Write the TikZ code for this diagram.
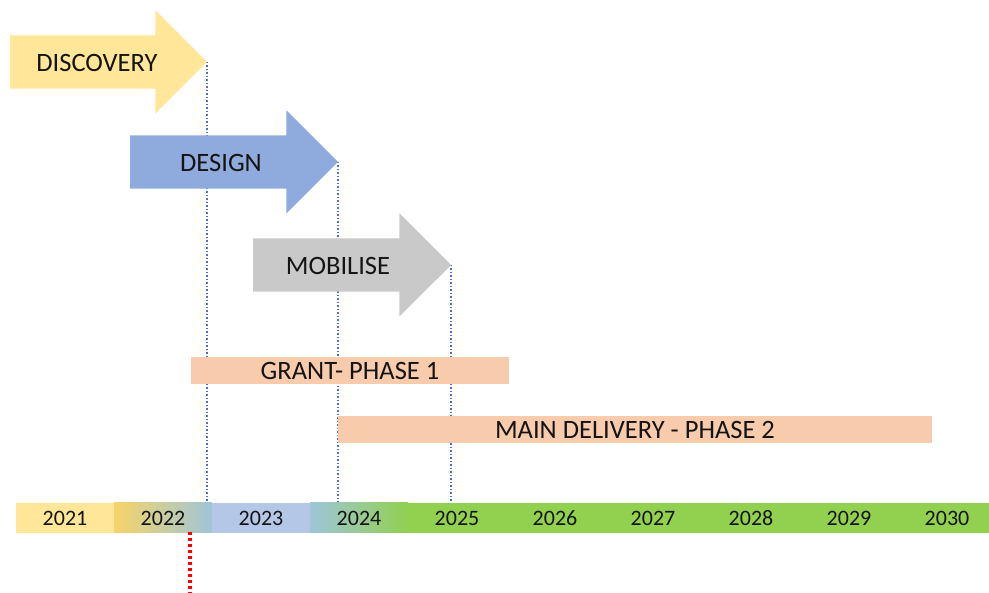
\documentclass[tikz,border=0pt]{standalone}
\usepackage{fontspec}
\setmainfont{Carlito}
\usetikzlibrary{positioning,shapes.arrows,backgrounds}

\definecolor{discfill}{HTML}{FFE699}
\definecolor{desfill}{HTML}{8FAADC}
\definecolor{mobfill}{HTML}{C9C9C9}
\definecolor{barfill}{HTML}{F8CBAD}
\definecolor{tlyellow}{HTML}{FFE699}
\definecolor{tlgold}{HTML}{F6D468}
\definecolor{tlteal}{HTML}{9FC5D8}
\definecolor{tlblue}{HTML}{B4C7E7}
\definecolor{tlgreen}{HTML}{92D050}
\definecolor{guide}{HTML}{4472C4}
\definecolor{inktext}{HTML}{141414}
\definecolor{nowred}{HTML}{FF0000}

\begin{document}
\begin{tikzpicture}[
  x=1pt, y=-1pt,
  phase/.style={single arrow, single arrow head extend=25pt, minimum width=103pt, inner xsep=0pt, inner ysep=26.5pt, outer sep=0pt, anchor=tail},
  phaselabel/.style={font=\fontsize{26.5}{30}\selectfont, text=inktext, inner sep=0pt},
  phasebar/.style={fill=barfill, minimum height=27pt, inner sep=0pt, outer sep=0pt, anchor=west, font=\fontsize{26.5}{30}\selectfont, text=inktext},
  year/.style={minimum width=98pt, minimum height=30pt, inner sep=0pt, outer sep=0pt, font=\fontsize{22}{26}\selectfont, text=inktext},
  gradcell/.style 2 args={path picture={\shade[left color=#1, right color=#2]
      (path picture bounding box.south west) rectangle (path picture bounding box.north east);}},
  guideline/.style={guide, line width=1.2pt, dash pattern=on 1.5pt off 2pt},
  nowline/.style={nowred, line width=3.4pt, dash pattern=on 3.4pt off 2.6pt}
]
\useasboundingbox (0,0) rectangle (989,593);

% Phase arrows
\node[phase, fill=discfill, minimum height=197pt] (disc) at (10,62) {};
\node[phase, fill=desfill, minimum height=208pt] (design) at (130,162) {};
\node[phase, fill=mobfill, minimum height=198pt] (mobilise) at (253,265) {};
\node[phaselabel] (disclabel) at (97,63) {DISCOVERY};
\node[phaselabel] (designlabel) at (221,163) {DESIGN};
\node[phaselabel] (moblabel) at (338,266) {MOBILISE};

% Funding bars
\node[phasebar, minimum width=318pt] (grant) at (191,370.5) {GRANT- PHASE 1};
\node[phasebar, minimum width=594pt] (main) at (338,429.5) {MAIN DELIVERY - PHASE 2};

% Timeline
\node[year, fill=tlyellow] (y2021) at (65,518) {2021};
\node[year, gradcell={tlgold}{tlteal}, right=0pt of y2021] (y2022) {2022};
\node[year, fill=tlblue, right=0pt of y2022] (y2023) {2023};
\node[year, gradcell={tlteal}{tlgreen}, right=0pt of y2023] (y2024) {2024};
\foreach \yr [remember=\yr as \prev (initially 2024)] in {2025,...,2030}
  \node[year, fill=tlgreen, right=0pt of y\prev] (y\yr) {\yr};

% Milestone guides
\begin{scope}[on background layer]
\draw[guideline] (disc.tip) -- (disc.tip |- y2021.north);
\draw[guideline] (design.tip) -- (design.tip |- y2021.north);
\draw[guideline] (mobilise.tip) -- (mobilise.tip |- y2021.north);
\end{scope}

% Today marker
\coordinate (now) at (190,593);
\draw[nowline] ([yshift=1pt]now |- y2022.south) -- (now);

\end{tikzpicture}
\end{document}
